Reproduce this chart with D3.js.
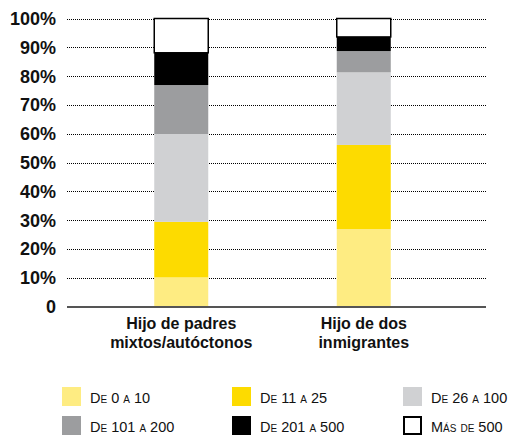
<!DOCTYPE html>
<html><head><meta charset="utf-8">
<script src="https://cdn.jsdelivr.net/npm/d3@7"></script>
<style>
html,body{margin:0;padding:0;background:#fff;}
svg{display:block;font-family:"Liberation Sans",Arial,Helvetica,sans-serif;}
</style></head>
<body>
<svg id="chart" width="509" height="436"></svg>
<script>
const categories = [["Hijo de padres","mixtos/autóctonos"],["Hijo de dos","inmigrantes"]];
const seriesNames = ["De 0 a 10","De 11 a 25","De 26 a 100","De 101 a 200","De 201 a 500","Más de 500"];
const seriesColors = ["#FEEC82","#FDDB00","#D0D1D3","#9C9D9F","#000000","#FFFFFF"];
const values = [
  [10.1, 26.9],
  [19.3, 29.2],
  [30.5, 25.2],
  [17.0, 7.4],
  [11.2, 4.9],
  [11.9, 6.4]
];
const yTicks = [0,10,20,30,40,50,60,70,80,90,100];

const svg = d3.select("#chart");
const plotLeft = 67, plotRight = 487;
const y = d3.scaleLinear().domain([0,100]).range([306.5,18.5]);
const x = d3.scaleBand().domain(categories.map((c,i)=>i)).range([90,455]).padding(0);
const barW = 54;

// gridlines
svg.append("g").selectAll("line").data(yTicks.filter(t=>t>0)).join("line")
  .attr("x1",plotLeft).attr("x2",plotRight)
  .attr("y1",d=>Math.round(y(d))+0.5).attr("y2",d=>Math.round(y(d))+0.5)
  .attr("stroke","#000").attr("stroke-width",1).attr("stroke-dasharray","1,1");

// y labels
svg.append("g").selectAll("text").data(yTicks).join("text")
  .attr("x",56).attr("y",d=>y(d)+6.5)
  .attr("text-anchor","end")
  .attr("font-size",18).attr("font-weight","bold").attr("fill","#111")
  .text(d=>d===0?"0":d+"%");

// stacked data
const rows = categories.map((c,i)=>{const o={idx:i}; seriesNames.forEach((s,k)=>o[s]=values[k][i]); return o;});
const stack = d3.stack().keys(seriesNames)(rows);

const gBars = svg.append("g");
stack.forEach((layer,k)=>{
  gBars.selectAll(null).data(layer).join("rect")
    .attr("x",d=>x(d.data.idx)+x.bandwidth()/2-barW/2)
    .attr("width",barW)
    .attr("y",d=>y(d[1]))
    .attr("height",d=>y(d[0])-y(d[1]))
    .attr("fill",seriesColors[k])
    .attr("stroke",k===5?"#000":"none")
    .attr("stroke-width",k===5?1.5:0);
});
// axis line
svg.append("line").attr("x1",plotLeft).attr("x2",plotRight-1)
  .attr("y1",y(0)+0.5).attr("y2",y(0)+0.5)
  .attr("stroke","#555").attr("stroke-width",2);

// category labels
categories.forEach((lines,i)=>{
  const t = svg.append("text")
    .attr("text-anchor","middle").attr("font-size",16).attr("font-weight","bold").attr("fill","#111");
  lines.forEach((ln,j)=>{
    t.append("tspan").attr("x",x(i)+x.bandwidth()/2).attr("y",328.5+j*19.4).text(ln);
  });
});

// legend
const legCols = [62,232,403];
const legRows = [387,416];
seriesNames.forEach((s,k)=>{
  const cx = legCols[k%3], cy = legRows[Math.floor(k/3)];
  const isWhite = k===5;
  svg.append("rect")
    .attr("x",isWhite?cx+1:cx).attr("y",isWhite?cy+1:cy)
    .attr("width",isWhite?17:19).attr("height",isWhite?17:19)
    .attr("fill",seriesColors[k])
    .attr("stroke",isWhite?"#000":"none").attr("stroke-width",isWhite?2:0);
  svg.append("text").attr("x",cx+28).attr("y",cy+15.5)
    .attr("font-size",14.5).attr("fill","#111")
    .style("font-variant","small-caps")
    .text(s);
});
</script>
</body></html>
